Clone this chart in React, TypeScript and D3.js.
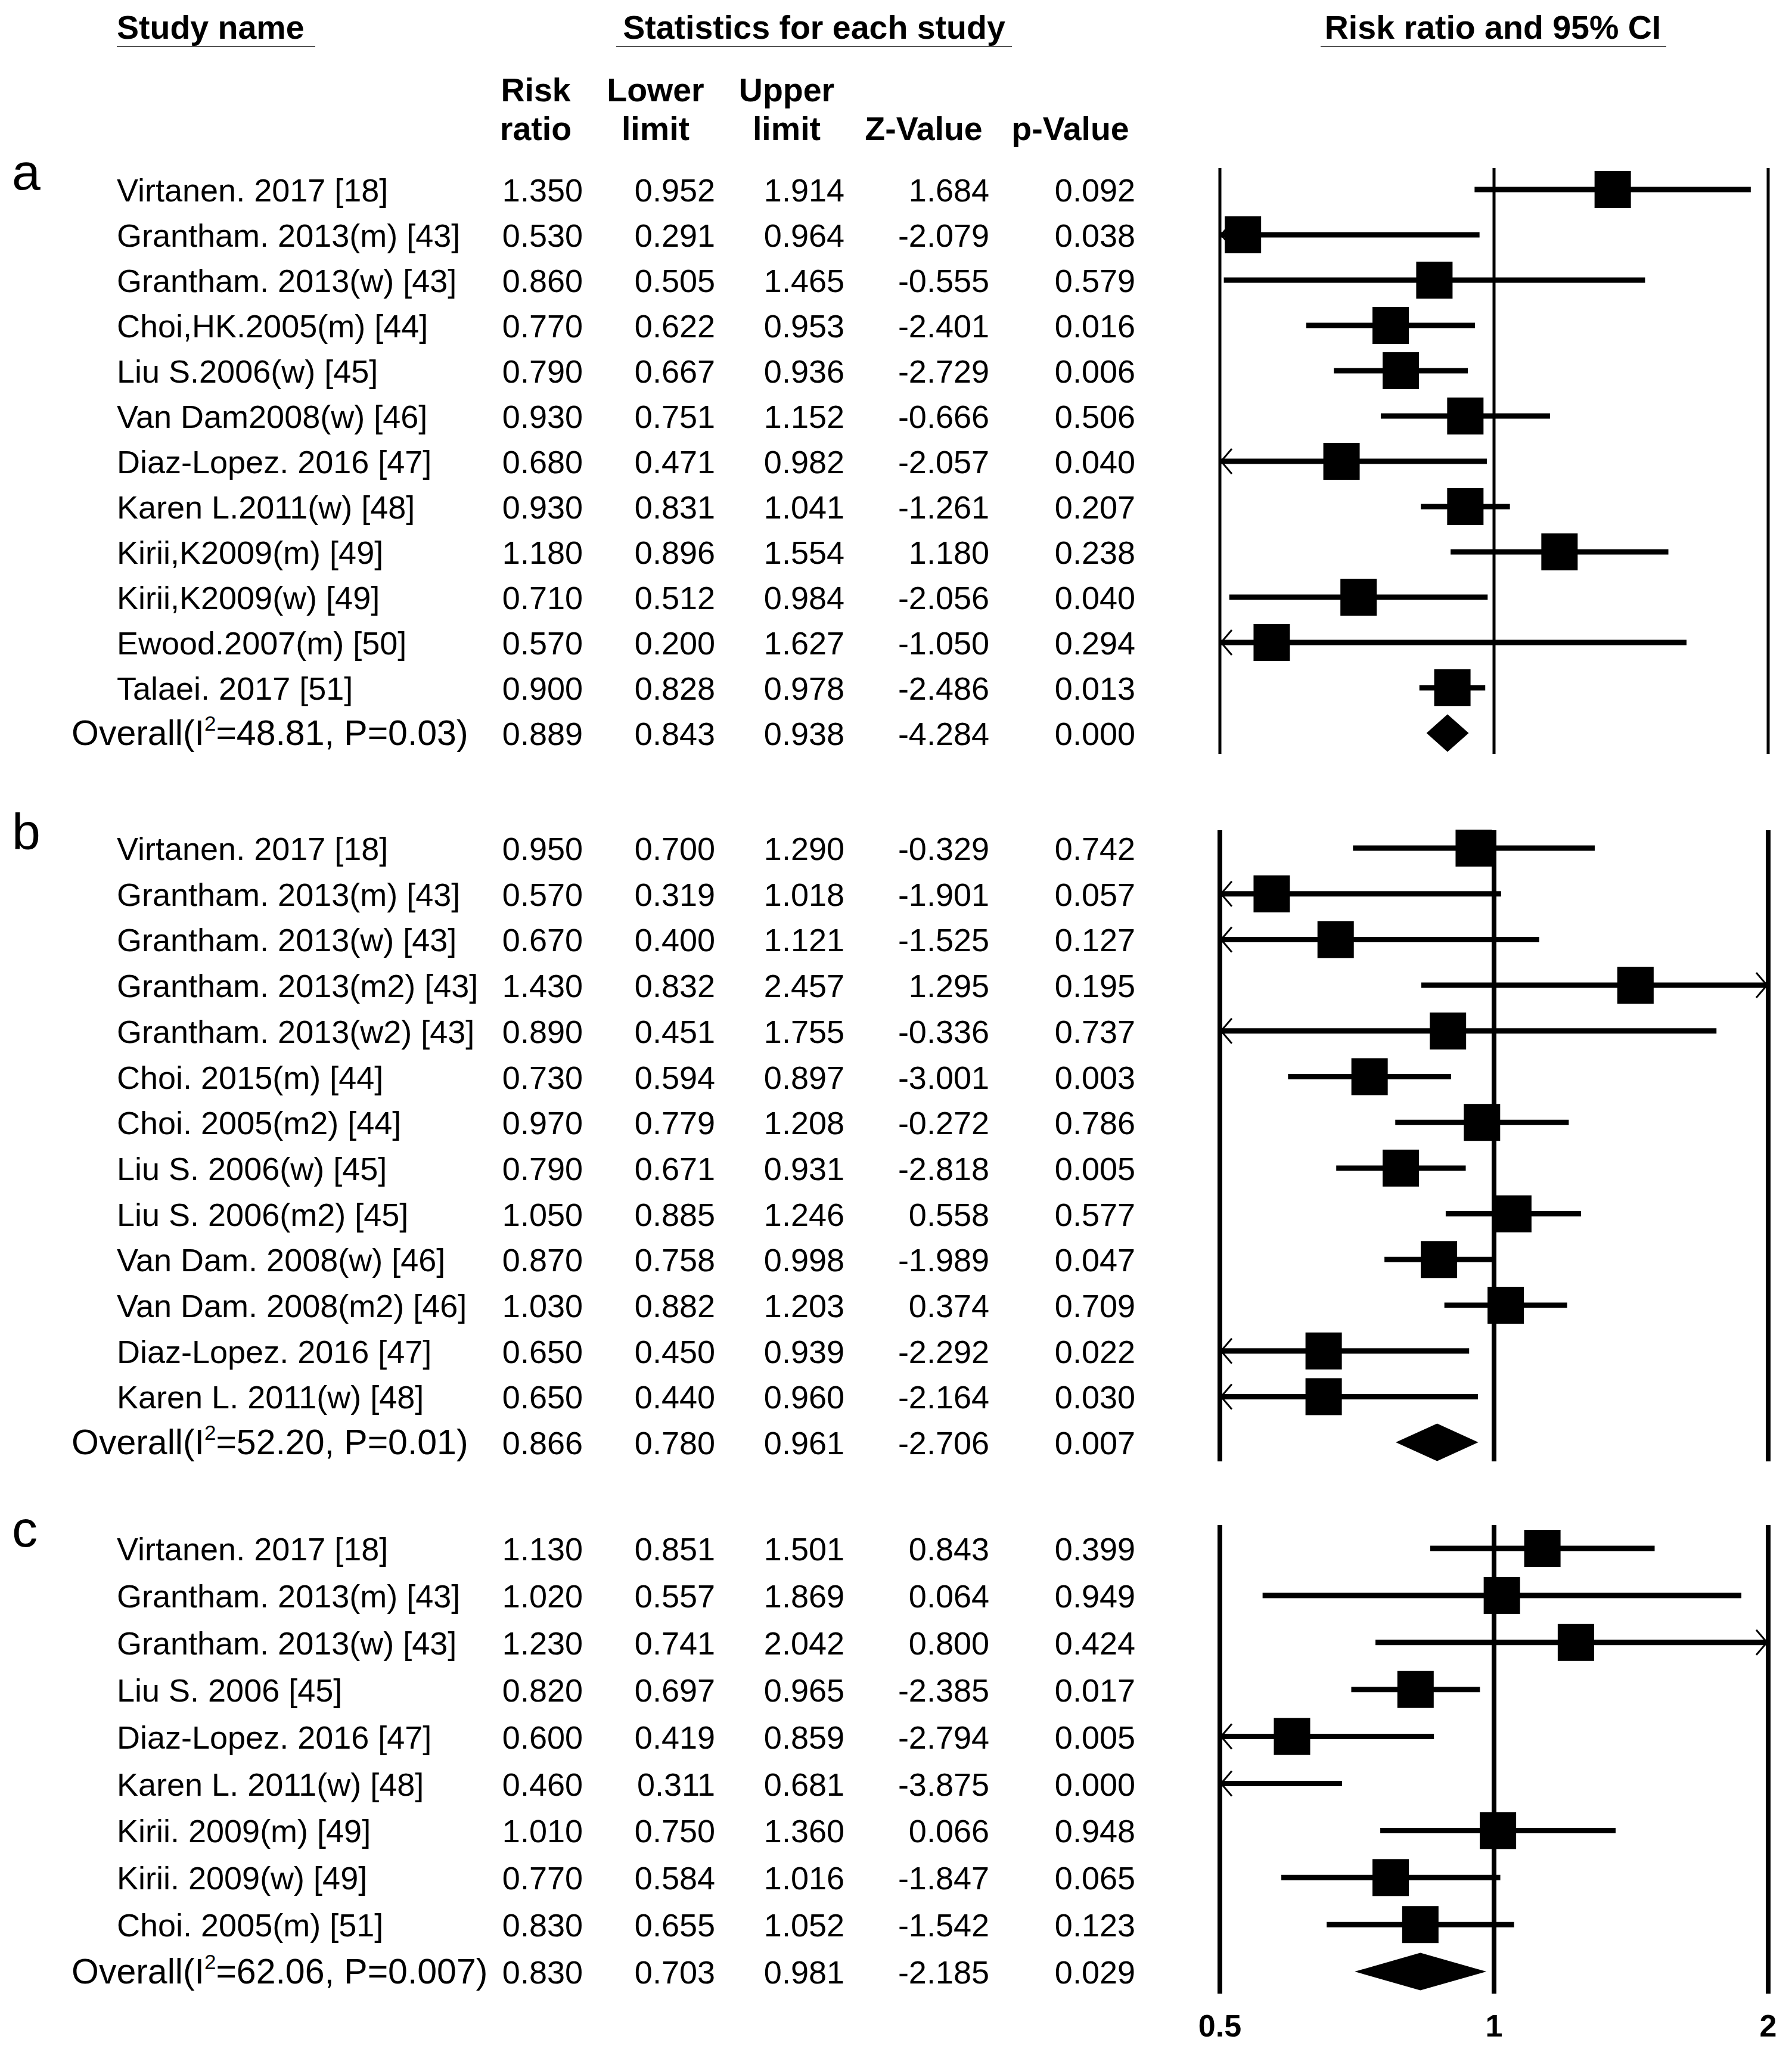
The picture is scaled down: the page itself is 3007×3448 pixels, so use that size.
import * as d3 from "d3";

// ---- data ----
const studiesA = [
  "Virtanen. 2017 [18]",
  "Grantham. 2013(m) [43]",
  "Grantham. 2013(w) [43]",
  "Choi,HK.2005(m) [44]",
  "Liu S.2006(w) [45]",
  "Van Dam2008(w) [46]",
  "Diaz-Lopez. 2016 [47]",
  "Karen L.2011(w) [48]",
  "Kirii,K2009(m) [49]",
  "Kirii,K2009(w) [49]",
  "Ewood.2007(m) [50]",
  "Talaei. 2017 [51]",
];
const riskA = [1.35, 0.53, 0.86, 0.77, 0.79, 0.93, 0.68, 0.93, 1.18, 0.71, 0.57, 0.9, 0.889];
const lowerA = [0.952, 0.291, 0.505, 0.622, 0.667, 0.751, 0.471, 0.831, 0.896, 0.512, 0.2, 0.828, 0.843];
const upperA = [1.914, 0.964, 1.465, 0.953, 0.936, 1.152, 0.982, 1.041, 1.554, 0.984, 1.627, 0.978, 0.938];
const zA = [1.684, -2.079, -0.555, -2.401, -2.729, -0.666, -2.057, -1.261, 1.18, -2.056, -1.05, -2.486, -4.284];
const pA = [0.092, 0.038, 0.579, 0.016, 0.006, 0.506, 0.04, 0.207, 0.238, 0.04, 0.294, 0.013, 0.0];

const studiesB = [
  "Virtanen. 2017 [18]",
  "Grantham. 2013(m) [43]",
  "Grantham. 2013(w) [43]",
  "Grantham. 2013(m2) [43]",
  "Grantham. 2013(w2) [43]",
  "Choi. 2015(m) [44]",
  "Choi. 2005(m2) [44]",
  "Liu S. 2006(w) [45]",
  "Liu S. 2006(m2) [45]",
  "Van Dam. 2008(w) [46]",
  "Van Dam. 2008(m2) [46]",
  "Diaz-Lopez. 2016 [47]",
  "Karen L. 2011(w) [48]",
];
const riskB = [0.95, 0.57, 0.67, 1.43, 0.89, 0.73, 0.97, 0.79, 1.05, 0.87, 1.03, 0.65, 0.65, 0.866];
const lowerB = [0.7, 0.319, 0.4, 0.832, 0.451, 0.594, 0.779, 0.671, 0.885, 0.758, 0.882, 0.45, 0.44, 0.78];
const upperB = [1.29, 1.018, 1.121, 2.457, 1.755, 0.897, 1.208, 0.931, 1.246, 0.998, 1.203, 0.939, 0.96, 0.961];
const zB = [-0.329, -1.901, -1.525, 1.295, -0.336, -3.001, -0.272, -2.818, 0.558, -1.989, 0.374, -2.292, -2.164, -2.706];
const pB = [0.742, 0.057, 0.127, 0.195, 0.737, 0.003, 0.786, 0.005, 0.577, 0.047, 0.709, 0.022, 0.03, 0.007];

const studiesC = [
  "Virtanen. 2017 [18]",
  "Grantham. 2013(m) [43]",
  "Grantham. 2013(w) [43]",
  "Liu S. 2006 [45]",
  "Diaz-Lopez. 2016 [47]",
  "Karen L. 2011(w) [48]",
  "Kirii. 2009(m) [49]",
  "Kirii. 2009(w) [49]",
  "Choi. 2005(m) [51]",
];
const riskC = [1.13, 1.02, 1.23, 0.82, 0.6, 0.46, 1.01, 0.77, 0.83, 0.83];
const lowerC = [0.851, 0.557, 0.741, 0.697, 0.419, 0.311, 0.75, 0.584, 0.655, 0.703];
const upperC = [1.501, 1.869, 2.042, 0.965, 0.859, 0.681, 1.36, 1.016, 1.052, 0.981];
const zC = [0.843, 0.064, 0.8, -2.385, -2.794, -3.875, 0.066, -1.847, -1.542, -2.185];
const pC = [0.399, 0.949, 0.424, 0.017, 0.005, 0.0, 0.948, 0.065, 0.123, 0.029];

const panelLabels = ["a", "b", "c"];
const overallI2 = ["48.81", "52.20", "62.06"];
const overallP = ["0.03", "0.01", "0.007"];
const axisTicks = [0.5, 1, 2];

// ---- layout ----
const W = 3007;
const H = 3448;
const FONT = "'Liberation Sans', Arial, Helvetica, sans-serif";
const colRight = [978, 1200, 1417, 1660, 1905];
const sections = [
  { first: 338, step: 76, top: 282, bottom: 1265, labelY: 318, lw: 5 },
  { first: 1443, step: 76.7, top: 1393, bottom: 2452, labelY: 1425, lw: 8 },
  { first: 2618, step: 78.9, top: 2559, bottom: 3345, labelY: 2595, lw: 8 },
];

const x = d3.scaleLog().domain([0.5, 2]).range([2047, 2967]);
const [xMin, xMax] = x.domain();

function Section({ idx, names, rr, lo, hi, z, p }: any) {
  const s = sections[idx];
  const n = rr.length;
  const y = d3.scaleLinear().domain([0, n - 1]).range([s.first, s.first + (n - 1) * s.step]);
  const fmt = (v: number) => v.toFixed(3);

  return (
    <g>
      <text x={20} y={s.labelY} fontSize={86} fontFamily={FONT}>
        {panelLabels[idx]}
      </text>

      {axisTicks.map(t => (
        <line key={t} x1={x(t)} x2={x(t)} y1={s.top} y2={s.bottom} stroke="#000" strokeWidth={s.lw} />
      ))}

      {rr.map((r: number, i: number) => {
        const base = y(i);
        const cy = base - 20;
        const isOverall = i === n - 1;
        const vals = [r, lo[i], hi[i], z[i], p[i]];
        const x0 = x(Math.max(lo[i], xMin));
        const x1 = x(Math.min(hi[i], xMax));
        return (
          <g key={i}>
            {isOverall ? (
              <text x={120} y={base} fontSize={59} fontFamily={FONT}>
                Overall(I
                <tspan fontSize={35} dy={-24}>2</tspan>
                <tspan dy={24}>{`=${overallI2[idx]}, P=${overallP[idx]})`}</tspan>
              </text>
            ) : (
              <text x={196} y={base} fontSize={54} fontFamily={FONT}>
                {names[i]}
              </text>
            )}
            {vals.map((v, j) => (
              <text key={j} x={colRight[j]} y={base} fontSize={54} fontFamily={FONT} textAnchor="end">
                {fmt(v)}
              </text>
            ))}

            {isOverall ? (
              <path
                d={`M${x(lo[i])},${cy} L${x(r)},${cy - 31.5} L${x(hi[i])},${cy} L${x(r)},${cy + 31.5} Z`}
                fill="#000"
              />
            ) : (
              <g>
                <line x1={x0} x2={x1} y1={cy} y2={cy} stroke="#000" strokeWidth={9} />
                {lo[i] < xMin && (
                  <path
                    d={`M${x(xMin) + 20},${cy - 21} L${x(xMin) + 2},${cy} L${x(xMin) + 20},${cy + 21}`}
                    fill="none"
                    stroke="#000"
                    strokeWidth={3}
                  />
                )}
                {hi[i] > xMax && (
                  <path
                    d={`M${x(xMax) - 20},${cy - 21} L${x(xMax) - 2},${cy} L${x(xMax) - 20},${cy + 21}`}
                    fill="none"
                    stroke="#000"
                    strokeWidth={3}
                  />
                )}
                {r >= xMin && r <= xMax && (
                  <rect x={x(r) - 30.5} y={cy - 31} width={61} height={62} fill="#000" />
                )}
              </g>
            )}
          </g>
        );
      })}
    </g>
  );
}

export default function App() {
  const lastSection = sections[2];
  return (
    <svg
      width={W}
      height={H}
      viewBox={`0 0 ${W} ${H}`}
      style={{ position: "absolute", left: 0, top: 0, background: "#fff" }}
    >
      <rect width={W} height={H} fill="#fff" />

      {/* column headers */}
      <g fontFamily={FONT} fontSize={55.5} fontWeight="bold">
        <text x={196} y={65}>Study name</text>
        <text x={1366} y={65} textAnchor="middle">Statistics for each study</text>
        <text x={2505} y={65} textAnchor="middle">Risk ratio and 95% CI</text>
        <line x1={196} x2={529} y1={78} y2={78} stroke="#555" strokeWidth={2} />
        <line x1={1034} x2={1698} y1={78} y2={78} stroke="#555" strokeWidth={2} />
        <line x1={2216} x2={2796} y1={78} y2={78} stroke="#555" strokeWidth={2} />

        <text x={899} y={170} textAnchor="middle">Risk</text>
        <text x={899} y={235} textAnchor="middle">ratio</text>
        <text x={1100} y={170} textAnchor="middle">Lower</text>
        <text x={1100} y={235} textAnchor="middle">limit</text>
        <text x={1320} y={170} textAnchor="middle">Upper</text>
        <text x={1320} y={235} textAnchor="middle">limit</text>
        <text x={1550} y={235} textAnchor="middle">Z-Value</text>
        <text x={1796} y={235} textAnchor="middle">p-Value</text>
      </g>

      <Section idx={0} names={studiesA} rr={riskA} lo={lowerA} hi={upperA} z={zA} p={pA} />
      <Section idx={1} names={studiesB} rr={riskB} lo={lowerB} hi={upperB} z={zB} p={pB} />
      <Section idx={2} names={studiesC} rr={riskC} lo={lowerC} hi={upperC} z={zC} p={pC} />

      {/* x-axis tick labels under the last panel */}
      {axisTicks.map(t => (
        <text
          key={t}
          x={x(t)}
          y={lastSection.bottom + 72}
          fontSize={52}
          fontWeight="bold"
          fontFamily={FONT}
          textAnchor="middle"
        >
          {String(t)}
        </text>
      ))}
    </svg>
  );
}
